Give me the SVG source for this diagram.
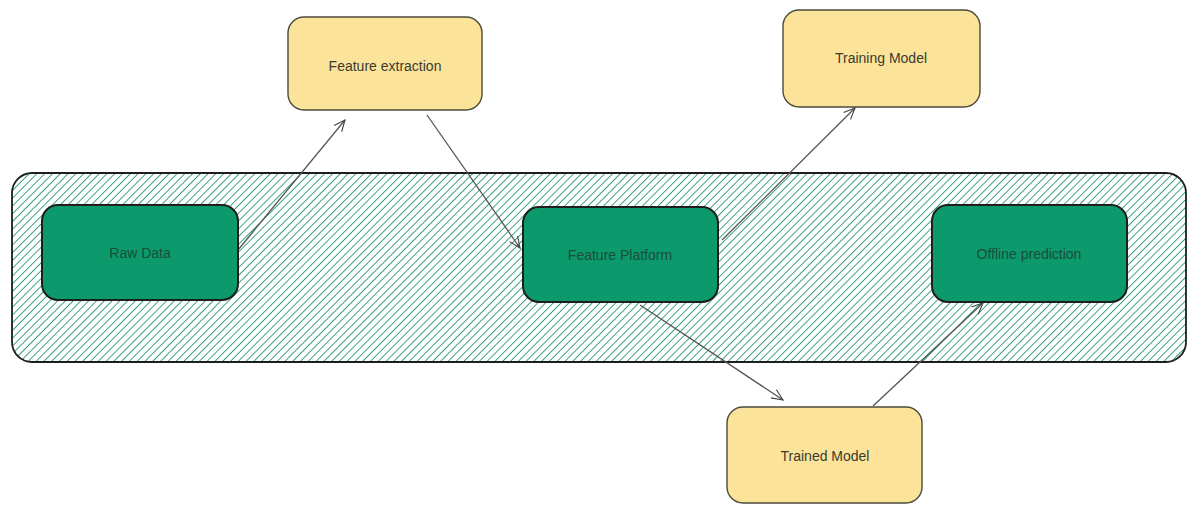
<svg xmlns="http://www.w3.org/2000/svg" width="1190" height="510" viewBox="0 0 1190 510">
  <defs>
    <pattern id="hatch" width="5.5" height="5.5" patternUnits="userSpaceOnUse" patternTransform="rotate(45)">
      <rect width="5.5" height="5.5" fill="#ffffff"/>
      <line x1="0" y1="0" x2="0" y2="5.5" stroke="#2a9a7a" stroke-width="1.8"/>
    </pattern>
    <marker id="arrow" viewBox="0 0 20 20" refX="18" refY="10" markerWidth="14" markerHeight="14" markerUnits="userSpaceOnUse" orient="auto">
      <path d="M2,3 L18,10 L2,17" fill="none" stroke="#444" stroke-width="1.6"/>
    </marker>
    <style>
      .box-green { fill: #0c9a6c; stroke: #1e1e1e; stroke-width: 2; }
      .box-yellow { fill: #fbe49a; stroke: #4a4a3a; stroke-width: 1.4; }
      .lbl-green { font-family: "Liberation Sans", Arial, sans-serif; font-size: 14px; fill: #1a4d3a; text-anchor: middle; dominant-baseline: central; }
      .lbl-yellow { font-family: "Liberation Sans", Arial, sans-serif; font-size: 14px; fill: #3b3a30; text-anchor: middle; dominant-baseline: central; }
      .edge { fill: none; stroke: #555; stroke-width: 1.3; marker-end: url(#arrow); }
    </style>
  </defs>

  <rect width="1190" height="510" fill="#ffffff"/>

  <!-- pipeline band -->
  <g id="pipeline">
    <rect x="12" y="173" width="1174" height="189" rx="20" ry="20" fill="url(#hatch)" stroke="#1e1e1e" stroke-width="1.8"/>
  </g>

  <!-- connectors -->
  <g id="connectors">
    <path class="edge" d="M238,250 L345,120"/>
    <path class="edge" d="M427,115 L520,248"/>
    <path class="edge" d="M722,240 L855,108"/>
    <path class="edge" d="M640,305 L783,400"/>
    <path class="edge" d="M873,406 L983,303"/>
  </g>

  <g id="raw-data">
    <rect class="box-green" x="42" y="205" width="196" height="95" rx="16"/>
    <text class="lbl-green" x="140" y="253">Raw Data</text>
  </g>

  <g id="feature-extraction">
    <rect class="box-yellow" x="288" y="17" width="194" height="93" rx="16"/>
    <text class="lbl-yellow" x="385" y="66">Feature extraction</text>
  </g>

  <g id="feature-platform">
    <rect class="box-green" x="523" y="207" width="195" height="95" rx="16"/>
    <text class="lbl-green" x="620" y="255">Feature Platform</text>
  </g>

  <g id="training-model">
    <rect class="box-yellow" x="783" y="10" width="197" height="97" rx="16"/>
    <text class="lbl-yellow" x="881" y="58">Training Model</text>
  </g>

  <g id="offline-prediction">
    <rect class="box-green" x="932" y="205" width="195" height="97" rx="16"/>
    <text class="lbl-green" x="1029" y="254">Offline prediction</text>
  </g>

  <g id="trained-model">
    <rect class="box-yellow" x="727" y="407" width="195" height="96" rx="16"/>
    <text class="lbl-yellow" x="825" y="456">Trained Model</text>
  </g>
</svg>
